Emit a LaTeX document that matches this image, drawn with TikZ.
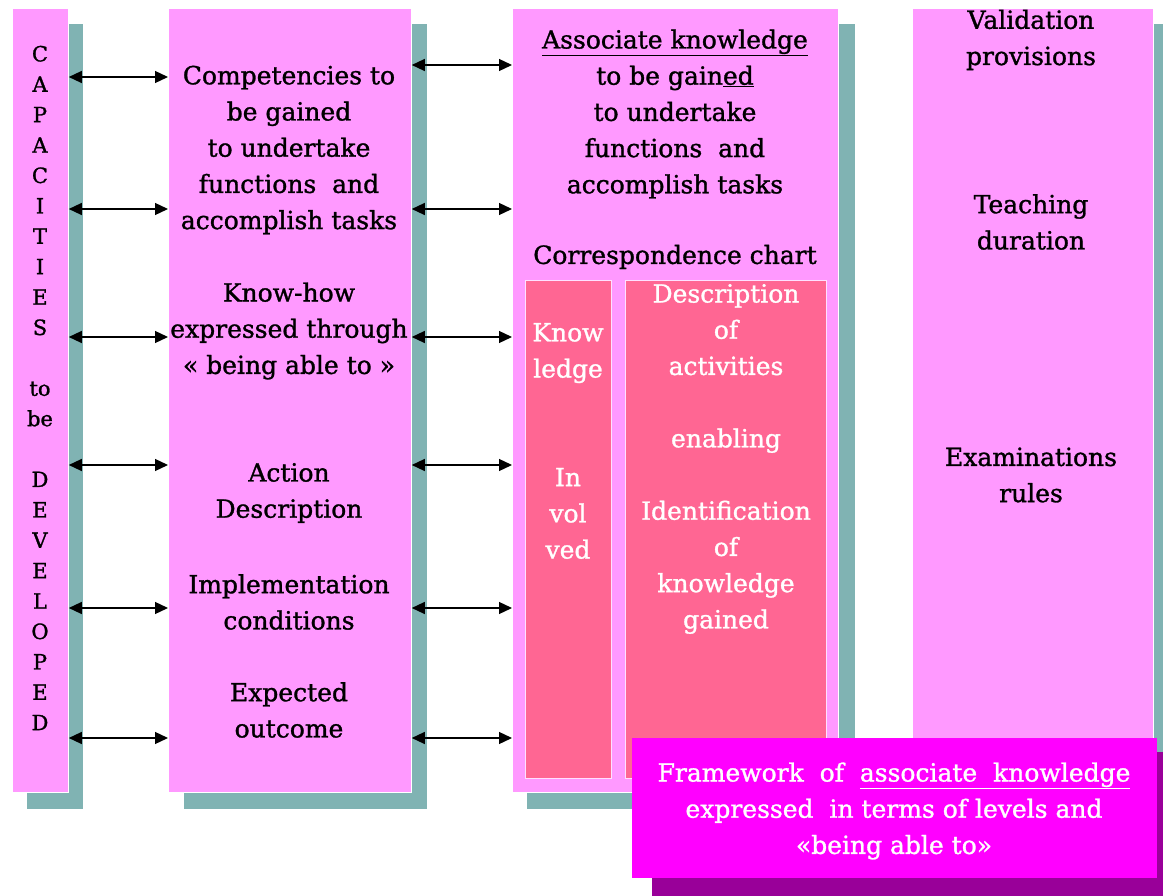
\documentclass[tikz,border=0pt]{standalone}
\usepackage{fontspec}
\setmainfont{DejaVu Serif}[BoldFont=DejaVu Serif, BoldFeatures={FakeBold=1.2}]
\usetikzlibrary{arrows.meta}
\definecolor{colpink}{HTML}{FF99FF}
\definecolor{tealshade}{HTML}{80B3B3}
\definecolor{chartrose}{HTML}{FF6693}
\definecolor{framemag}{HTML}{FF00FF}
\definecolor{frameshade}{HTML}{990099}
\begin{document}
\begin{tikzpicture}[x=1pt,y=-1pt,
  colbox/.style={fill=colpink, draw=white, line width=0.8pt, inner sep=0pt, anchor=north west},
  chartbox/.style={fill=chartrose, draw=white!70!colpink, line width=0.8pt, inner sep=0pt, anchor=north west},
  framebox/.style={fill=framemag, draw=none, inner sep=0pt, anchor=north west},
  body/.style={font=\fontsize{25}{36.2}\selectfont\bfseries, align=center, inner sep=0pt},
  lightbody/.style={body, text=white},
  letters/.style={font=\fontsize{21}{30.4}\selectfont\bfseries, align=center, inner sep=0pt},
  link/.style={{Triangle[length=13pt,width=12pt]}-{Triangle[length=13pt,width=12pt]}, line width=1.3pt}
]
\useasboundingbox (0,0) rectangle (1163,896);

% drop shadows behind the columns
\fill[tealshade] (27,24) rectangle (83,809);
\fill[tealshade] (184,24) rectangle (427,809);
\fill[tealshade] (527,24) rectangle (855,809);
\fill[tealshade] (927,24) rectangle (1175,809);

% columns
\node[colbox, minimum width=56, minimum height=784] (cap) at (12,8) {};
\node[colbox, minimum width=243, minimum height=784] (comp) at (168,8) {};
\node[colbox, minimum width=326, minimum height=784] (assoc) at (512,8) {};
\node[colbox, minimum width=241, minimum height=784] (valid) at (912,8) {};

% correspondence chart cells
\node[chartbox, minimum width=86, minimum height=498] (know) at (525,280) {};
\node[chartbox, minimum width=201, minimum height=498] (desc) at (625,280) {};

% framework box with its shadow
\fill[frameshade] (652,752) rectangle (1175,896);
\node[framebox, minimum width=525, minimum height=140] (frame) at (632,738) {};

% left column text
\node[letters] (captext) at (40,388) {C\\A\\P\\A\\C\\I\\T\\I\\E\\S\\[30.4pt]to\\be\\[30.4pt]D\\E\\V\\E\\L\\O\\P\\E\\D};

% second column text
\node[body] (compa) at (289,150) {Competencies to\\be gained\\to undertake\\functions\ \ and\\accomplish tasks};
\node[body] (compb) at (289,331) {Know-how\\expressed through\\« being able to »};
\node[body] (compc) at (289,493) {Action\\Description};
\node[body] (compd) at (289,602) {Implementation\\conditions};
\node[body] (compe) at (289,710) {Expected\\outcome};

% third column text
\node[body] (assoca) at (675,114) {\underline{Associate knowledge}\\to be gain\underline{ed}\\to undertake\\functions\ \ and\\accomplish tasks};
\node[body] (chart) at (675,257) {Correspondence chart};
\node[lightbody] (knowtext) at (568,441) {Know\\ledge\\[72.4pt]In\\vol\\ved};
\node[lightbody] (desctext) at (726,459) {Description\\of\\activities\\[36.2pt]enabling\\[36.2pt]Identification\\of\\knowledge\\gained};

% fourth column text
\node[body] (valida) at (1031,40) {Validation\\provisions};
\node[body] (validb) at (1031,222) {Teaching\\duration};
\node[body] (validc) at (1031,475) {Examinations\\rules};

% framework text
\node[lightbody] (frametext) at (894,811) {Framework\ \ of\ \ \underline{associate\ \ knowledge}\\expressed\ \ in terms of levels and\\«being able to»};

% two-way links between the columns
\foreach \yy in {77,209,337,465,608,738}
  \draw[link] (cap.east |- 0,\yy) -- (comp.west |- 0,\yy);
\foreach \yy in {65,209,337,465,608,738}
  \draw[link] (comp.east |- 0,\yy) -- (assoc.west |- 0,\yy);
\end{tikzpicture}
\end{document}
